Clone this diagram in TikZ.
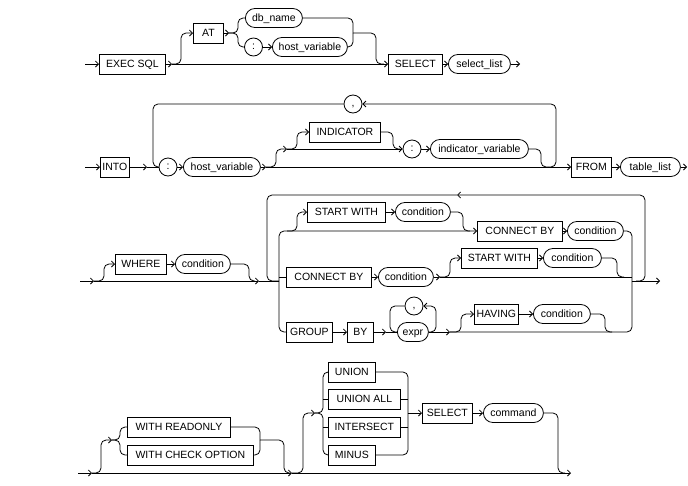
\documentclass[tikz,border=0pt]{standalone}
\usepackage{fontspec}
\setmainfont{Liberation Sans}
\usetikzlibrary{arrows.meta}
\begin{document}
\begin{tikzpicture}[x=1pt,y=-1pt,
  line width=0.8pt,
  font=\fontsize{10.5}{12}\selectfont,
  rnd/.style={rounded corners=5pt},
  arr/.style={-{Straight Barb[length=3pt,width=6pt]}},
  rrbox/.style={draw, line width=0.8pt, inner xsep=2pt, inner ysep=0pt, text height=7.6pt, text depth=0.4pt, anchor=west, align=center},
  kw/.style={rrbox, rectangle, minimum height=20pt, minimum width=#1pt},
  var/.style={rrbox, rounded corners=9.5pt, minimum height=19pt, minimum width=#1pt},
  pun/.style={draw, circle, minimum size=18pt, inner sep=0pt, line width=0.8pt, text height=4pt, text depth=0pt},
]
\path[fill=white] (0,0) rectangle (688,485);
\useasboundingbox (0,0) rectangle (688,485);

% ---------------- Row 1 ----------------
\node[kw=66] (exec) at (99,64) {EXEC SQL};
\node[kw=30] (at) at (193,33) {AT};
\node[var=57] (dbname) at (245,18) {db\_name};
\node[pun] (c1) at (253.5,47) {:};
\node[var=75] (hv1) at (272,47) {host\_variable};
\node[kw=54] (sel1) at (388,64) {SELECT};
\node[var=62] (sellist) at (448,64) {select\_list};
\coordinate (s1) at (85,64);
\coordinate (f1) at (172,64);
\coordinate (f1b) at (229,33);
\coordinate (m1) at (353,33);
\coordinate (m1b) at (384,64);
\coordinate (e1) at (520,64);

\draw[arr] (s1) -- (exec.west);
\draw[arr] (exec.east) -- (f1);
\draw[arr] (f1) -- (sel1.west);
\draw[arr,rnd] (f1) -| (181,33) -- (at.west);
\draw[arr] (at.east) -- (f1b);
\draw[rnd] (f1b) -| (238,18) -- (dbname.west);
\draw[rnd] (f1b) -| (238,47) -- (c1.west);
\draw[arr] (c1.east) -- (hv1.west);
\draw[rnd] (dbname.east) -| (m1);
\draw[rnd] (hv1.east) -| (m1);
\draw[rnd] (m1) -| (376,64) -- (m1b);
\draw[arr] (sel1.east) -- (sellist.west);
\draw[arr] (sellist.east) -- (e1);

% ---------------- Row 2 ----------------
\node[kw=28] (into) at (100,167) {INTO};
\node[pun] (c2) at (168,167) {:};
\node[var=77] (hv2) at (183,167) {host\_variable};
\node[kw=71] (ind) at (309,132) {INDICATOR};
\node[pun] (c3) at (412,149) {:};
\node[var=98] (indvar) at (430,149) {indicator\_variable};
\node[pun] (comma1) at (353,104) {,};
\node[kw=40] (from) at (571,167) {FROM};
\node[var=60] (tlist) at (620,167) {table\_list};
\coordinate (s2) at (85,167);
\coordinate (f2a) at (147,167);
\coordinate (f2b) at (266,167);
\coordinate (f2c) at (287,149);
\coordinate (m2) at (548,167);
\coordinate (e2) at (687,167);

\draw[arr] (s2) -- (into.west);
\draw[arr] (into.east) -- (f2a);
\draw (f2a) -- (c2.west);
\draw[arr] (c2.east) -- (hv2.west);
\draw[arr] (hv2.east) -- (f2b);
\draw[arr] (f2b) -- (from.west);
\draw[arr,rnd] (f2b) -| (276,149) -- (f2c);
\draw[arr] (f2c) -- (c3.west);
\draw[arr,rnd] (f2c) -| (297,132) -- (ind.west);
\draw[rnd] (ind.east) -| (393,149) -- (400,149);
\draw[arr] (c3.east) -- (indvar.west);
\draw[rnd] (indvar.east) -| (541,167) -- (m2);
\draw[arr,rnd] (m2) -| (556,104) -- (comma1.east);
\draw[rnd] (comma1.west) -| (153,167) -- (c2.west);
\draw[arr] (from.east) -- (tlist.west);
\draw[arr] (tlist.east) -- (e2);

% ---------------- Row 3 ----------------
\node[kw=51] (where) at (115,264) {WHERE};
\node[var=55] (cond1) at (175,264) {condition};
\node[kw=78] (sw1) at (307,212) {START WITH};
\node[var=55] (cond2) at (395,212) {condition};
\node[kw=85] (cb1) at (477,231) {CONNECT BY};
\node[var=56] (cond3) at (567,231) {condition};
\node[kw=85] (cb2) at (286,277) {CONNECT BY};
\node[var=55] (cond4) at (378,277) {condition};
\node[kw=76] (sw2) at (461,258) {START WITH};
\node[var=58] (cond5) at (543,258) {condition};
\node[kw=46] (grp) at (286,332) {GROUP};
\node[kw=26] (by) at (347,332) {BY};
\node[var=31] (expr) at (397,332) {expr};
\node[pun] (comma2) at (414,306) {,};
\node[kw=44] (hav) at (474,314) {HAVING};
\node[var=57] (cond6) at (533,314) {condition};
\coordinate (s3) at (80,281);
\coordinate (f3a) at (94,281);
\coordinate (j3) at (259,281);
\coordinate (g3) at (279,281);
\coordinate (f3b) at (440,277);
\coordinate (f3c) at (450,332);
\coordinate (r3) at (632,281);
\coordinate (lp3) at (636,281);
\coordinate (top3) at (457,195);
\coordinate (e3) at (660,281);

\draw[arr] (s3) -- (f3a);
\draw[arr] (f3a) -- (j3);
\draw[arr,rnd] (f3a) -| (104,264) -- (where.west);
\draw[arr] (where.east) -- (cond1.west);
\draw[rnd] (cond1.east) -| (249,281) -- (255,281);
\draw (j3) -- (g3);
\draw[arr,rnd] (lp3) -| (645,195) -- (top3);
\draw[rnd] (top3) -| (267,281) -- (g3);
\draw[arr,rnd] (g3) |- (cb1.west);
\draw[arr,rnd] (287,231) -| (297,212) -- (sw1.west);
\draw[arr] (sw1.east) -- (cond2.west);
\draw[rnd] (cond2.east) -| (463,231) -- (470,231);
\draw[arr] (cb1.east) -- (cond3.west);
\draw[rnd] (cond3.east) -| (r3);
\draw (279,277) -- (cb2.west);
\draw[arr] (cb2.east) -- (cond4.west);
\draw[arr] (cond4.east) -- (f3b);
\draw (f3b) -- (632,277);
\draw[arr,rnd] (f3b) -| (450,258) -- (sw2.west);
\draw[arr] (sw2.east) -- (cond5.west);
\draw[rnd] (cond5.east) -| (617,277) -- (624,277);
\draw[rnd] (g3) |- (grp.west);
\draw[arr] (grp.east) -- (by.west);
\draw[arr] (by.east) -- (386,332);
\draw (386,332) -- (expr.west);
\draw[rnd] (comma2.west) -| (390,332) -- (expr.west);
\draw[arr,rnd] (expr.east) -| (436,306) -- (comma2.east);
\draw[arr] (expr.east) -- (f3c);
\draw[rnd] (f3c) -| (r3);
\draw[arr,rnd] (f3c) -| (461,314) -- (hav.west);
\draw[arr] (hav.east) -- (cond6.west);
\draw[rnd] (cond6.east) -| (605,332) -- (612,332);
\draw[arr] (r3) -- (e3);

% ---------------- Row 4 ----------------
\node[kw=103] (wro) at (127,427) {WITH READONLY};
\node[kw=126] (wco) at (127,455) {WITH CHECK OPTION};
\node[kw=47] (un) at (328,372) {UNION};
\node[kw=72] (unall) at (328,399) {UNION ALL};
\node[kw=72] (inter) at (328,427) {INTERSECT};
\node[kw=47] (minus) at (328,455) {MINUS};
\node[kw=50] (sel2) at (422,413) {SELECT};
\node[var=60] (cmd) at (483,413) {command};
\coordinate (s4) at (78,473);
\coordinate (f4a) at (92,473);
\coordinate (j4a) at (112,440);
\coordinate (j4b) at (260,440);
\coordinate (f4b) at (292,473);
\coordinate (j4c) at (315,413);
\coordinate (j4d) at (408,413);
\coordinate (e4) at (571,473);

\draw[arr] (s4) -- (f4a);
\draw[arr] (f4a) -- (f4b);
\draw[arr,rnd] (f4a) -| (101,440) -- (j4a);
\draw[rnd] (j4a) -| (120,427) -- (wro.west);
\draw[rnd] (j4a) -| (120,455) -- (wco.west);
\draw[rnd] (wro.east) -| (j4b);
\draw[rnd] (wco.east) -| (j4b);
\draw[rnd] (j4b) -| (284,473) -- (290,473);
\draw[arr] (f4b) -- (e4);
\draw[arr,rnd] (f4b) -| (303,413) -- (j4c);
\draw[rnd] (j4c) -| (323,372) -- (un.west);
\draw[rnd] (j4c) -| (323,455) -- (minus.west);
\draw (323,399) -- (unall.west);
\draw (323,427) -- (inter.west);
\draw[rnd] (un.east) -| (j4d);
\draw[rnd] (minus.east) -| (j4d);
\draw (unall.east) -- (408,399);
\draw (inter.east) -- (408,427);
\draw[arr] (j4d) -- (sel2.west);
\draw[arr] (sel2.east) -- (cmd.west);
\draw[rnd] (cmd.east) -| (558,473) -- (565,473);
\end{tikzpicture}
\end{document}
